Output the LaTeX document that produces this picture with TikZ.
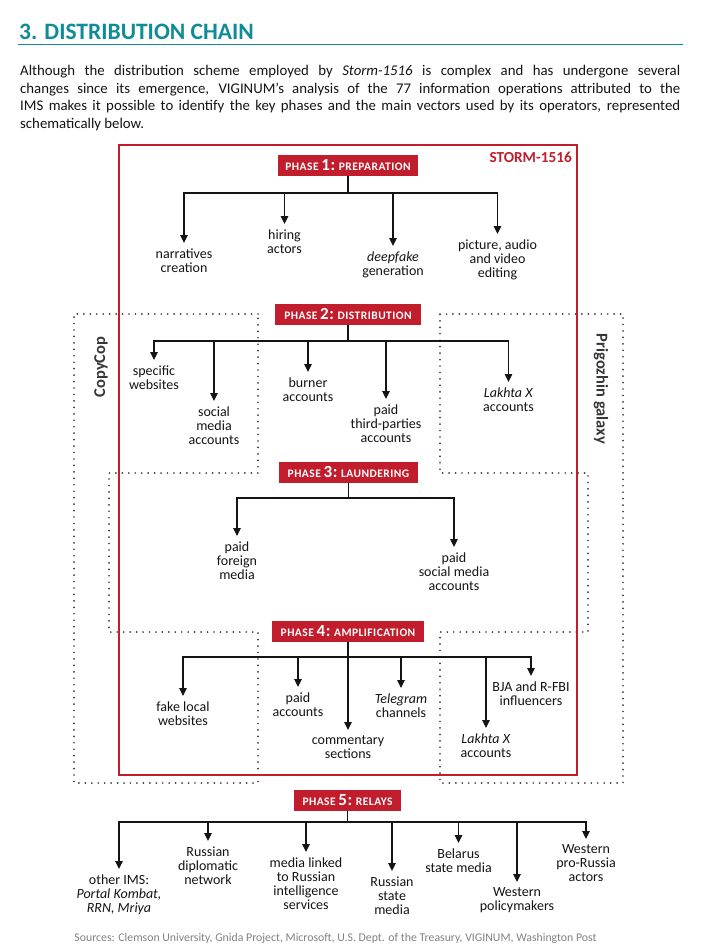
\documentclass[tikz,border=0pt]{standalone}
\usepackage{fontspec}
\setmainfont{Carlito}
\newfontfamily\phasefont{Carlito}[LetterSpace=4]
\usetikzlibrary{arrows.meta}
\definecolor{teal1}{RGB}{16,140,152}
\definecolor{stormred}{RGB}{193,29,44}
\definecolor{txt}{RGB}{20,20,20}
\definecolor{dotc}{RGB}{55,55,55}
\definecolor{srcgray}{RGB}{130,130,130}
\newcommand\phaselabel[2]{{\fontsize{11.5}{12}\selectfont PHASE} {\fontsize{17}{17}\selectfont #1:} {\fontsize{11.5}{12}\selectfont #2}}
\begin{document}
\begin{tikzpicture}[x=1pt,y=-1pt,
  lbl/.style={align=center, font=\fontsize{14}{14}\selectfont, text=txt, inner sep=0pt, outer sep=5.5pt, anchor=north},
  phasebox/.style={fill=stormred, text=white, minimum height=21pt, inner sep=0pt, font=\phasefont\bfseries},
  bus/.style={line width=1.4pt, draw=txt},
  arr/.style={bus, -{Triangle[length=8pt,width=7.5pt]}},
  dotline/.style={draw=dotc, line width=1.9pt, line cap=round, dash pattern=on 0pt off 6.45pt},
  ]
\fill[white] (0,0) rectangle (707,945);
\useasboundingbox (0,0) rectangle (707,945);

% header
\node[anchor=base west, inner sep=0pt, font=\fontsize{23.5}{25}\selectfont\bfseries, text=teal1] (title) at (19,39) {3. DISTRIBUTION CHAIN};
\draw[teal1, line width=1.2pt] (18,44.5) -- (683,44.5);
\node[anchor=base west, inner sep=0pt, font=\fontsize{14.8}{17.7}\selectfont, text=txt] (para) at (20,75.5) {\parbox[t]{660pt}{%
\makebox[660pt][s]{Although the distribution scheme employed by \textit{Storm-1516} is complex and has undergone several}\\
\makebox[660pt][s]{changes since its emergence, VIGINUM’s analysis of the 77 information operations attributed to the}\\
\makebox[660pt][s]{IMS makes it possible to identify the key phases and the main vectors used by its operators, represented}\\
schematically below.}};

% dotted groups
\draw[dotline] (258,314) -- (74,314) -- (74,783) -- (258,783) -- (258,632) -- (109,632) -- (109,473) -- (258,473) -- cycle;
\draw[dotline] (440,314) -- (623,314) -- (623,783) -- (440,783) -- (440,632) -- (588,632) -- (588,473) -- (440,473) -- cycle;
\node[rotate=90, font=\fontsize{16.5}{17}\selectfont\bfseries, text=dotc] (copycop) at (101,367) {CopyCop};
\node[rotate=-90, font=\fontsize{16.5}{17}\selectfont\bfseries, text=dotc] (prig) at (601,389) {Prigozhin galaxy};

% red frame
\draw[stormred, line width=2.4pt] (119,145) rectangle (577,775);
\node[anchor=base east, inner sep=0pt, font=\fontsize{15.3}{16}\selectfont\bfseries, text=stormred] (storm) at (572,162) {STORM-1516};

% phase boxes
\node[phasebox, minimum width=140pt] (p1) at (348,165.5) {\phaselabel{1}{PREPARATION}};
\node[phasebox, minimum width=146pt] (p2) at (348,314) {\phaselabel{2}{DISTRIBUTION}};
\node[phasebox, minimum width=139pt] (p3) at (348.5,472) {\phaselabel{3}{LAUNDERING}};
\node[phasebox, minimum width=152pt] (p4) at (348,631) {\phaselabel{4}{AMPLIFICATION}};
\node[phasebox, minimum width=107pt] (p5) at (347.5,800) {\phaselabel{5}{RELAYS}};

% phase 1
\node[lbl] (n11) at (184,243) {narratives\\creation};
\node[lbl] (n12) at (284.5,224) {hiring\\actors};
\node[lbl] (n13) at (393,246) {\textit{deepfake}\\generation};
\node[lbl] (n14) at (497.5,234) {picture, audio\\and video\\editing};
\coordinate (b1) at (348,193);
\draw[bus] (p1.south) -- (b1);
\draw[arr] (b1) -| (n11.north);
\draw[arr] (b1) -| (n14.north);
\draw[arr] (n12.north |- b1) -- (n12.north);
\draw[arr] (n13.north |- b1) -- (n13.north);

% phase 2
\node[lbl] (n21) at (154,360) {specific\\websites};
\node[lbl] (n22) at (214,401) {social\\media\\accounts};
\node[lbl] (n23) at (308,372) {burner\\accounts};
\node[lbl] (n24) at (386,399) {paid\\third-parties\\accounts};
\node[lbl] (n25) at (508.5,382) {\textit{Lakhta X}\\accounts};
\coordinate (b2) at (348,341);
\draw[bus] (p2.south) -- (b2);
\draw[arr] (b2) -| (n21.north);
\draw[arr] (b2) -| (n25.north);
\draw[arr] (n22.north |- b2) -- (n22.north);
\draw[arr] (n23.north |- b2) -- (n23.north);
\draw[arr] (n24.north |- b2) -- (n24.north);

% phase 3
\node[lbl] (n31) at (237,536) {paid\\foreign\\media};
\node[lbl] (n32) at (454,547) {paid\\social media\\accounts};
\coordinate (b3) at (348.5,498);
\draw[bus] (p3.south) -- (b3);
\draw[arr] (b3) -| (n31.north);
\draw[arr] (b3) -| (n32.north);

% phase 4
\node[lbl] (n41) at (183,696) {fake local\\websites};
\node[lbl] (n42) at (298,687) {paid\\accounts};
\node[lbl] (n43) at (348,730) {commentary\\sections};
\node[lbl] (n44) at (401,688) {\textit{Telegram}\\channels};
\node[lbl] (n45) at (486,728) {\textit{Lakhta X}\\accounts};
\node[lbl] (n46) at (531,676) {BJA and R-FBI\\influencers};
\coordinate (b4) at (348,657);
\draw[arr] (p4.south) -- (n43.north);
\draw[arr] (b4) -| (n41.north);
\draw[arr] (b4) -| (n46.north);
\draw[arr] (n42.north |- b4) -- (n42.north);
\draw[arr] (n44.north |- b4) -- (n44.north);
\draw[arr] (n45.north |- b4) -- (n45.north);

% phase 5
\node[lbl] (n51) at (119,869) {other IMS:\\\textit{Portal Kombat,}\\\textit{RRN, Mriya}};
\node[lbl] (n52) at (208,841) {Russian\\diplomatic\\network};
\node[lbl] (n53) at (306,852) {media linked\\to Russian\\intelligence\\services};
\node[lbl] (n54) at (392,871) {Russian\\state\\media};
\node[lbl] (n55) at (458.5,843) {Belarus\\state media};
\node[lbl] (n56) at (517,882) {Western\\policymakers};
\node[lbl] (n57) at (586,839) {Western\\pro-Russia\\actors};
\coordinate (b5) at (347.5,822);
\draw[bus] (p5.south) -- (b5);
\draw[arr] (b5) -| (n51.north);
\draw[arr] (b5) -| (n57.north);
\foreach \n in {n52,n53,n54,n55,n56} \draw[arr] (\n.north |- b5) -- (\n.north);

% sources
\node[anchor=base, inner sep=0pt, font=\fontsize{11.8}{12}\selectfont, text=srcgray] (src) at (335.5,941.5) {Sources: Clemson University, Gnida Project, Microsoft, U.S. Dept. of the Treasury, VIGINUM, Washington Post};
\end{tikzpicture}
\end{document}
